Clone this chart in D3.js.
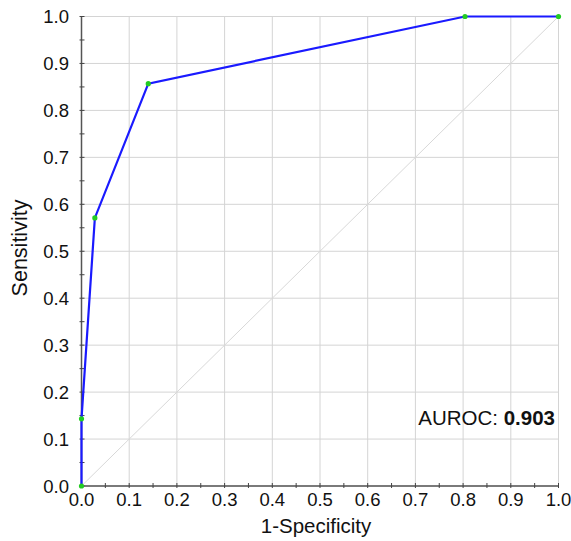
<!DOCTYPE html>
<html>
<head>
<meta charset="utf-8">
<script src="https://cdnjs.cloudflare.com/ajax/libs/d3/7.8.5/d3.min.js"></script>
<style>
  body { margin: 0; background: #fff; }
  text { font-family: "Liberation Sans", Arial, Helvetica, sans-serif; fill: #111; }
</style>
</head>
<body>
<div id="chart"></div>
<script>
// ROC points (1-specificity, sensitivity)
var fpr = [0, 0, 0.028, 0.140, 0.804, 1.0];
var tpr = [0, 0.143, 0.571, 0.857, 1.0, 1.0];
var tickVals = [0, 0.1, 0.2, 0.3, 0.4, 0.5, 0.6, 0.7, 0.8, 0.9, 1.0];
var minorVals = d3.range(0, 21).map(function(i) { return i * 0.05; });
var auroc = "0.903";

var width = 571, height = 541;
var margin = {top: 16.5, right: 12.5, bottom: 55, left: 81.5};

var x = d3.scaleLinear().domain([0, 1]).range([margin.left, width - margin.right]);
var y = d3.scaleLinear().domain([0, 1]).range([height - margin.bottom, margin.top]);

var svg = d3.select("#chart").append("svg")
  .attr("width", width)
  .attr("height", height);

// grid
svg.append("g").selectAll("line.gx")
  .data(tickVals)
  .enter().append("line")
  .attr("x1", function(d) { return x(d); })
  .attr("x2", function(d) { return x(d); })
  .attr("y1", y(0)).attr("y2", y(1))
  .style("stroke", "#d4d4d4").style("stroke-width", 1);

svg.append("g").selectAll("line.gy")
  .data(tickVals)
  .enter().append("line")
  .attr("y1", function(d) { return y(d); })
  .attr("y2", function(d) { return y(d); })
  .attr("x1", x(0)).attr("x2", x(1))
  .style("stroke", "#d4d4d4").style("stroke-width", 1);

// diagonal
svg.append("line")
  .attr("x1", x(0)).attr("y1", y(0))
  .attr("x2", x(1)).attr("y2", y(1))
  .style("stroke", "#d8d8d8").style("stroke-width", 1);

// axes
var xAxis = svg.append("g")
  .attr("transform", "translate(0," + y(0) + ")");
xAxis.append("line")
  .attr("x1", x(0)).attr("x2", x(1))
  .style("stroke", "#555").style("stroke-width", 1.5);
xAxis.selectAll("line.tick")
  .data(minorVals).enter().append("line")
  .attr("x1", function(d) { return x(d); })
  .attr("x2", function(d) { return x(d); })
  .attr("y1", -3).attr("y2", 2)
  .style("stroke", "#444").style("stroke-width", 1);
xAxis.selectAll("text")
  .data(tickVals).enter().append("text")
  .attr("x", function(d) { return x(d); })
  .attr("y", 19.5)
  .style("text-anchor", "middle")
  .style("font-size", "18.5px")
  .text(function(d) { return d.toFixed(1); });

var yAxis = svg.append("g")
  .attr("transform", "translate(" + x(0) + ",0)");
yAxis.append("line")
  .attr("y1", y(0)).attr("y2", y(1))
  .style("stroke", "#555").style("stroke-width", 1.5);
yAxis.selectAll("line.tick")
  .data(minorVals).enter().append("line")
  .attr("y1", function(d) { return y(d); })
  .attr("y2", function(d) { return y(d); })
  .attr("x1", -2).attr("x2", 3)
  .style("stroke", "#444").style("stroke-width", 1);
yAxis.selectAll("text")
  .data(tickVals).enter().append("text")
  .attr("x", -12.5)
  .attr("y", function(d) { return y(d); })
  .attr("dy", "0.36em")
  .style("text-anchor", "end")
  .style("font-size", "18.5px")
  .text(function(d) { return d.toFixed(1); });

// axis titles
svg.append("text")
  .attr("x", 316)
  .attr("y", 533)
  .style("text-anchor", "middle")
  .style("font-size", "20.5px")
  .text("1-Specificity");

svg.append("text")
  .attr("transform", "translate(27,248) rotate(-90)")
  .style("text-anchor", "middle")
  .style("font-size", "21.5px")
  .text("Sensitivity");

// ROC curve
var pts = fpr.map(function(d, i) { return [d, tpr[i]]; });
var line = d3.line()
  .x(function(d) { return x(d[0]); })
  .y(function(d) { return y(d[1]); });

svg.append("path")
  .datum(pts)
  .attr("d", line)
  .style("fill", "none")
  .style("stroke", "#1a1aff")
  .style("stroke-width", 2.2);

svg.selectAll("circle.pt")
  .data(pts).enter().append("circle")
  .attr("cx", function(d) { return x(d[0]); })
  .attr("cy", function(d) { return y(d[1]); })
  .attr("r", 2.6)
  .style("fill", "#22cc22");

// AUROC label
var lab = svg.append("text")
  .attr("x", 555)
  .attr("y", 425)
  .style("text-anchor", "end")
  .style("font-size", "20.5px");
lab.append("tspan").text("AUROC: ");
lab.append("tspan").style("font-weight", "bold").text(auroc);
</script>
</body>
</html>
